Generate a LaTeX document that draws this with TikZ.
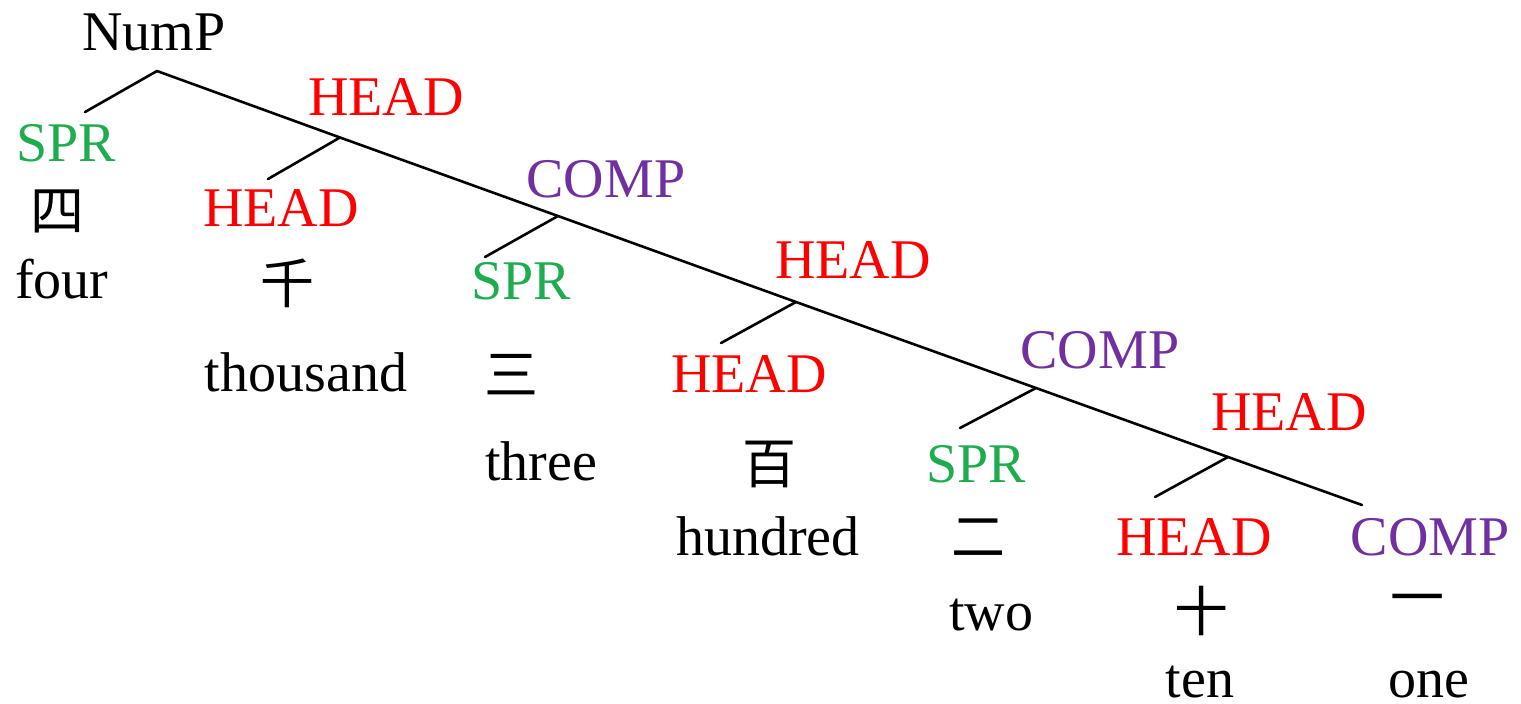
\documentclass[tikz,border=0pt]{standalone}
\usepackage{fontspec}
\setmainfont{Liberation Serif}
\newfontfamily\cjk{Noto Sans CJK SC}
\definecolor{hred}{HTML}{FF0000}
\definecolor{sgreen}{HTML}{1DAD4E}
\definecolor{cpurple}{HTML}{7030A0}
\tikzset{
  lbl/.style={inner sep=0pt, font=\fontsize{28}{32}\selectfont, anchor=base},
  headlbl/.style={lbl, text=hred},
  sprlbl/.style={lbl, text=sgreen},
  complbl/.style={lbl, text=cpurple},
  wordlbl/.style={lbl, text=black},
  hanzi/.style={inner sep=0pt, font=\fontsize{27}{30}\selectfont\cjk, anchor=center},
  branch/.style={line width=1.3pt, black, line cap=round}
}
\begin{document}
\begin{tikzpicture}[x=0.5pt,y=-0.5pt]
\useasboundingbox (0,0) rectangle (1521,703);
% branch points
\coordinate (root) at (157,71);
\coordinate (n1) at (340,137.5);
\coordinate (n2) at (558,216);
\coordinate (n3) at (796,302);
\coordinate (n4) at (1036,388);
\coordinate (n5) at (1228,457);
\coordinate (endc) at (1362,505);
\coordinate (l0) at (85,112);
\coordinate (l1) at (268,179);
\coordinate (l2) at (485,257);
\coordinate (l3) at (721,343);
\coordinate (l4) at (960,428);
\coordinate (l5) at (1155,497);
% lines
\draw[branch] (root) -- (n1) -- (n2) -- (n3) -- (n4) -- (n5) -- (endc);
\draw[branch] (root) -- (l0);
\draw[branch] (n1) -- (l1);
\draw[branch] (n2) -- (l2);
\draw[branch] (n3) -- (l3);
\draw[branch] (n4) -- (l4);
\draw[branch] (n5) -- (l5);
% labels
\node[wordlbl] (nump) at (154,50) {NumP};
\node[sprlbl] (spr1) at (66,161) {SPR};
\node[hanzi] (si) at (57,211) {四};
\node[wordlbl] (four) at (62,298) {four};
\node[headlbl] (head1) at (386,115) {HEAD};
\node[headlbl] (head2) at (281,226) {HEAD};
\node[hanzi] (qian) at (287,283) {千};
\node[wordlbl] (thousand) at (306,391) {thousand};
\node[complbl] (comp1) at (606,197) {COMP};
\node[sprlbl] (spr2) at (521,299) {SPR};
\node[hanzi] (san) at (511,375) {三};
\node[wordlbl] (three) at (541,480) {three};
\node[headlbl] (head3) at (853,278) {HEAD};
\node[headlbl] (head4) at (749,392) {HEAD};
\node[hanzi] (bai) at (769,464) {百};
\node[wordlbl] (hundred) at (768,555) {hundred};
\node[complbl] (comp2) at (1100,368) {COMP};
\node[sprlbl] (spr3) at (976,482) {SPR};
\node[hanzi] (er) at (978,538) {二};
\node[wordlbl] (two) at (991,630) {two};
\node[headlbl] (head5) at (1289,430) {HEAD};
\node[headlbl] (head6) at (1194,555) {HEAD};
\node[hanzi] (shi) at (1201,611) {十};
\node[wordlbl] (ten) at (1200,697) {ten};
\node[complbl] (comp3) at (1430,555) {COMP};
\node[hanzi] (yi) at (1417,606) {一};
\node[wordlbl] (one) at (1429,697) {one};
\end{tikzpicture}
\end{document}
